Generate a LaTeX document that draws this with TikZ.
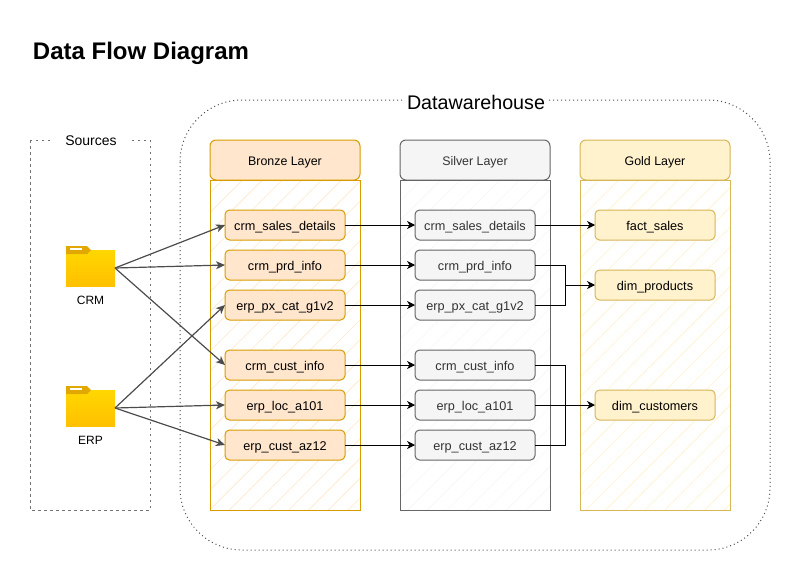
\documentclass[tikz,border=0pt]{standalone}
\usepackage{fontspec}
\setmainfont{Liberation Sans}
\usetikzlibrary{positioning,arrows.meta,patterns.meta}

\definecolor{bronzefill}{HTML}{FFE6CC}
\definecolor{bronzeline}{HTML}{D79B00}
\definecolor{silverfill}{HTML}{F5F5F5}
\definecolor{silverline}{HTML}{666666}
\definecolor{goldfill}{HTML}{FFF2CC}
\definecolor{goldline}{HTML}{D6B656}
\definecolor{foldertop}{HTML}{FFD700}
\definecolor{folderbottom}{HTML}{FFC000}
\definecolor{foldertab}{HTML}{E0A800}

\tikzset{
  layerhead/.style = {draw, rounded corners = 6pt, line width = 1pt,
                      minimum width = 150pt, minimum height = 40pt,
                      inner sep = 0pt, outer sep = 0pt, text height = 10pt, text depth = 0pt,
                      font = \fontsize{12.4}{14}\selectfont},
  layerbody/.style = {draw, line width = 1pt, minimum width = 150pt,
                      minimum height = 330pt, inner sep = 0pt, outer sep = 0pt},
  table/.style     = {draw, rounded corners = 4.5pt, line width = 1pt,
                      minimum width = 120pt, minimum height = 30pt,
                      inner sep = 0pt, outer sep = 0pt, text height = 10pt, text depth = 0pt,
                      font = \fontsize{12.7}{14}\selectfont},
  bronze/.style    = {table, fill = bronzefill, draw = bronzeline},
  silver/.style    = {table, fill = silverfill, draw = silverline, text = black!80},
  gold/.style      = {table, fill = goldfill, draw = goldline},
  folder/.style    = {minimum width = 49pt, minimum height = 36pt, inner sep = 0pt,
                      outer sep = 0pt, top color = foldertop, bottom color = folderbottom},
  caption/.style   = {font = \fontsize{12}{14}\selectfont, inner sep = 0pt,
                      text height = 9pt, text depth = 0pt},
  feed/.style      = {draw = black!70, line width = 1.2pt, -{Stealth[length = 9pt, width = 8pt, inset = 2.5pt]}},
  flow/.style      = {draw = black, line width = .9pt, -{Stealth[length = 8pt, width = 8pt, inset = 2.5pt]}},
  merge/.style     = {draw = black, line width = .9pt},
  hatch/.style     = {pattern = {Lines[angle = 45, distance = 14pt, line width = .6pt]}}
}

\begin{document}
\begin{tikzpicture}[x = 1pt, y = -1pt, node distance = 10pt]
  \useasboundingbox (0,0) rectangle (802,581);

  \node[font = \fontsize{24}{26}\selectfont\bfseries, inner sep = 0pt] (title) at (141,53) {Data Flow Diagram};

  % outer frames
  \draw[black!55, line width = .9pt, dash pattern = on 2.5pt off 3.5pt] (30,140) rectangle (150,510);
  \node[fill = white, font = \fontsize{14}{16}\selectfont, inner xsep = 14pt, inner ysep = 1pt] (sources) at (91,141) {Sources};
  \draw[black!70, line width = 1pt, dash pattern = on 1pt off 3pt, rounded corners = 62pt] (180,100) rectangle (770,550);
  \node[fill = white, font = \fontsize{19.7}{22}\selectfont, inner xsep = 3pt, inner ysep = 1pt] (dwh) at (476,102) {Datawarehouse};

  % layers
  \node[layerhead, fill = bronzefill, draw = bronzeline] (bronzeHead) at (285,160) {Bronze Layer};
  \node[layerbody, draw = bronzeline, below = 0pt of bronzeHead, hatch, pattern color = bronzefill] (bronzeBody) {};
  \node[layerhead, fill = silverfill, draw = silverline, text = black!80] (silverHead) at (475,160) {Silver Layer};
  \node[layerbody, draw = silverline, below = 0pt of silverHead, hatch, pattern color = silverfill] (silverBody) {};
  \node[layerhead, fill = goldfill, draw = goldline] (goldHead) at (655,160) {Gold Layer};
  \node[layerbody, draw = goldline, below = 0pt of goldHead, hatch, pattern color = goldfill] (goldBody) {};

  % bronze tables
  \node[bronze] (bSales) at (285,225) {crm\_sales\_details};
  \node[bronze, below = of bSales] (bPrd) {crm\_prd\_info};
  \node[bronze, below = of bPrd] (bCat) {erp\_px\_cat\_g1v2};
  \node[bronze, below = 30pt of bCat] (bCust) {crm\_cust\_info};
  \node[bronze, below = of bCust] (bLoc) {erp\_loc\_a101};
  \node[bronze, below = of bLoc] (bAz) {erp\_cust\_az12};

  % silver tables
  \node[silver] (sSales) at (475,225) {crm\_sales\_details};
  \node[silver, below = of sSales] (sPrd) {crm\_prd\_info};
  \node[silver, below = of sPrd] (sCat) {erp\_px\_cat\_g1v2};
  \node[silver, below = 30pt of sCat] (sCust) {crm\_cust\_info};
  \node[silver, below = of sCust] (sLoc) {erp\_loc\_a101};
  \node[silver, below = of sLoc] (sAz) {erp\_cust\_az12};

  % gold tables
  \node[gold] (gSales) at (655,225) {fact\_sales};
  \node[gold] (gProd) at (655,285) {dim\_products};
  \node[gold] (gCust) at (655,405) {dim\_customers};

  % sources
  \node[folder] (crm) at (90.5,268) {};
  \fill[foldertab] (crm.north west) -- ++(0,-4) -- ++(21,0) -- ++(4,4) -- ++(-4,4) -- ++(-21,0) -- cycle;
  \fill[white] ([shift = {(4,-2)}]crm.north west) rectangle ++(12,2);
  \node[caption, below = 9pt of crm] (crmText) {CRM};
  \node[folder] (erp) at (90.5,408) {};
  \fill[foldertab] (erp.north west) -- ++(0,-4) -- ++(21,0) -- ++(4,4) -- ++(-4,4) -- ++(-21,0) -- cycle;
  \fill[white] ([shift = {(4,-2)}]erp.north west) rectangle ++(12,2);
  \node[caption, below = 9pt of erp] (erpText) {ERP};

  \draw[feed] (crm.east) -- (bSales.west);
  \draw[feed] (crm.east) -- (bPrd.west);
  \draw[feed] (crm.east) -- (bCust.west);
  \draw[feed] (erp.east) -- (bCat.west);
  \draw[feed] (erp.east) -- (bLoc.west);
  \draw[feed] (erp.east) -- (bAz.west);

  \draw[flow] (bSales) -- (sSales);
  \draw[flow] (bPrd) -- (sPrd);
  \draw[flow] (bCat) -- (sCat);
  \draw[flow] (bCust) -- (sCust);
  \draw[flow] (bLoc) -- (sLoc);
  \draw[flow] (bAz) -- (sAz);

  \coordinate (prodJoin) at (565,285);
  \coordinate (custJoin) at (565,405);
  \draw[flow] (sSales) -- (gSales);
  \draw[merge] (sPrd.east) -| (prodJoin);
  \draw[merge] (sCat.east) -| (prodJoin);
  \draw[flow] (prodJoin) -- (gProd);
  \draw[merge] (sCust.east) -| (custJoin);
  \draw[merge] (sAz.east) -| (custJoin);
  \draw[flow] (sLoc) -- (gCust);
\end{tikzpicture}
\end{document}
